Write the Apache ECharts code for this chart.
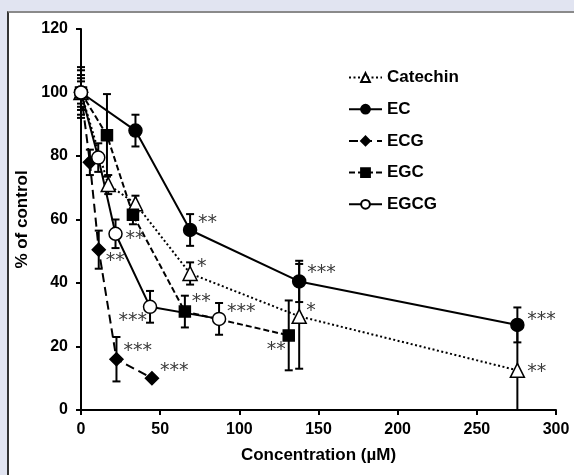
<!DOCTYPE html>
<html>
<head>
<meta charset="utf-8">
<script src="https://cdn.jsdelivr.net/npm/echarts@6/dist/echarts.min.js"></script>
<style>
  html, body { margin: 0; padding: 0; background: #e1e4f1; }
  .panel { position: absolute; left: 7px; top: 11px; width: 567px; height: 464px; background: #fff;
    border-left: 2px solid #333; border-top: 2px solid #8a8a8a; box-sizing: border-box; }
  #chart { position: absolute; left: 0; top: 0; width: 574px; height: 475px; }
</style>
</head>
<body>
<div class="panel"></div>
<div id="chart"></div>
<script>
// concentration (µM), % of control, error (SD), significance marks
const catechinX = [0, 17.2, 34.4, 68.9, 137.8, 275.6];
const catechinY = [100, 71, 65, 43, 29.5, 12.5];
const catechinErr = [8, 3, 2.5, 3.5, 16.5, 13];
const catechinSig = ["", "", "", "*", "*", "**"];

const ecX = [0, 34.4, 68.9, 137.8, 275.6];
const ecY = [100, 88, 56.7, 40.5, 26.8];
const ecErr = [5.5, 5, 5, 6.5, 5.5];
const ecSig = ["", "", "**", "***", "***"];

const ecgX = [0, 5.6, 11.2, 22.4, 44.8];
const ecgY = [100, 78, 50.5, 16, 10];
const ecgErr = [7, 4, 6, 7, 0.5];
const ecgSig = ["", "", "**", "***", "***"];

const egcX = [0, 16.4, 32.8, 65.6, 131.2];
const egcY = [100, 86.5, 61.5, 31, 23.5];
const egcErr = [3.5, 13, 3, 5, 11];
const egcSig = ["", "", "", "**", "**"];

const egcgX = [0, 10.9, 21.8, 43.6, 87.2];
const egcgY = [100, 79.5, 55.5, 32.5, 28.7];
const egcgErr = [4.5, 4.5, 4.5, 5, 5];
const egcgSig = ["", "", "**", "***", "***"];

const xTicks = [0, 50, 100, 150, 200, 250, 300];
const yTicks = [0, 20, 40, 60, 80, 100, 120];

// where each star label sits relative to its point: [dx, dy, align]
const sigPlace = {
  Catechin: { 3: [7, -6, "left"], 4: [7, -5, "left"], 5: [10, 2, "left"] },
  EC: { 2: [8, -7, "left"], 3: [8, -8, "left"], 4: [10, -5, "left"] },
  ECG: { 2: [7, 11, "left"], 3: [7, -8, "left"], 4: [8, -7, "left"] },
  EGC: { 3: [7, -10, "left"], 4: [-3, 15, "right"] },
  EGCG: { 2: [10, 5, "left"], 3: [-3, 14, "right"], 4: [8, -7, "left"] }
};

const FONT = "Liberation Sans, Arial, sans-serif";

const groups = [
  { name: "Catechin", x: catechinX, y: catechinY, err: catechinErr, sig: catechinSig,
    symbol: "triangle", size: 14, fill: "#fff", dash: [2, 2.5] },
  { name: "EC", x: ecX, y: ecY, err: ecErr, sig: ecSig, symbol: "circle", size: 13, fill: "#000", dash: "solid" },
  { name: "ECG", x: ecgX, y: ecgY, err: ecgErr, sig: ecgSig, symbol: "diamond", size: 13, fill: "#000", dash: [9, 5] },
  { name: "EGC", x: egcX, y: egcY, err: egcErr, sig: egcSig, symbol: "rect", size: 11, fill: "#000", dash: [6, 3] },
  { name: "EGCG", x: egcgX, y: egcgY, err: egcgErr, sig: egcgSig, symbol: "circle", size: 13, fill: "#fff", dash: "solid" }
];

const errRender = (params, api) => {
  const x = api.value(0);
  const y = api.value(1);
  const e = api.value(2);
  const top = api.coord([x, y + e]);
  const low = Math.max(0, y - e);
  const bot = api.coord([x, low]);
  const st = { stroke: "#000", lineWidth: 2 };
  const kids = [
    { type: "line", shape: { x1: top[0], y1: top[1], x2: bot[0], y2: bot[1] }, style: st },
    { type: "line", shape: { x1: top[0] - 4, y1: top[1], x2: top[0] + 4, y2: top[1] }, style: st }
  ];
  if (low > 0) kids.push({ type: "line", shape: { x1: bot[0] - 4, y1: bot[1], x2: bot[0] + 4, y2: bot[1] }, style: st });
  return { type: "group", children: kids };
};

const series = [];
groups.forEach((g) => {
  series.push({
    name: g.name + "-err",
    type: "custom",
    renderItem: errRender,
    encode: { x: 0, y: 1 },
    data: g.x.map((v, i) => [v, g.y[i], g.err[i]]),
    z: 1,
    silent: true
  });
});
groups.forEach((g) => {
  const place = sigPlace[g.name] || {};
  series.push({
    name: g.name,
    type: "line",
    symbol: g.symbol,
    symbolSize: g.size,
    showAllSymbol: true,
    lineStyle: { color: "#000", width: 2, type: g.dash },
    itemStyle: { color: g.fill, borderColor: "#000", borderWidth: 1.5 },
    z: 3,
    animation: false,
    data: g.x.map((v, i) => {
      const item = { value: [v, g.y[i]] };
      const p = place[i];
      if (g.sig[i] && p) {
        item.label = {
          show: true,
          formatter: g.sig[i],
          position: "inside",
          offset: [p[0], p[1]],
          align: p[2],
          verticalAlign: "middle",
          color: "#3a3a3a",
          fontFamily: "DejaVu Sans",
          fontSize: 19
        };
      }
      return item;
    })
  });
});

const chart = echarts.init(document.getElementById("chart"));
chart.setOption({
  animation: false,
  backgroundColor: "transparent",
  grid: { left: 81, top: 29, right: 18, bottom: 65 },
  legend: {
    data: groups.map((g) => g.name),
    orient: "vertical",
    left: 348,
    top: 69,
    padding: 0,
    itemWidth: 33,
    itemHeight: 11,
    itemGap: 14.7,
    textStyle: { fontFamily: FONT, fontWeight: "bold", fontSize: 17, color: "#000" }
  },
  xAxis: {
    type: "value",
    min: 0,
    max: 300,
    interval: 50,
    name: "Concentration (µM)",
    nameLocation: "middle",
    nameGap: 37,
    nameTextStyle: { fontFamily: FONT, fontWeight: "bold", fontSize: 17, color: "#000" },
    axisLine: { lineStyle: { color: "#000", width: 2 } },
    axisTick: { length: 5, lineStyle: { color: "#000", width: 2 } },
    axisLabel: { fontFamily: FONT, fontWeight: "bold", fontSize: 16, color: "#000", margin: 12,
      formatter: (v) => (xTicks.includes(v) ? String(v) : "") },
    splitLine: { show: false }
  },
  yAxis: {
    type: "value",
    min: 0,
    max: 120,
    interval: 20,
    name: "% of control",
    nameLocation: "middle",
    nameGap: 46,
    nameTextStyle: { fontFamily: FONT, fontWeight: "bold", fontSize: 17, color: "#000" },
    axisLine: { show: true, lineStyle: { color: "#000", width: 2 } },
    axisTick: { show: true, length: 5, lineStyle: { color: "#000", width: 2 } },
    axisLabel: { fontFamily: FONT, fontWeight: "bold", fontSize: 16, color: "#000", margin: 13,
      formatter: (v) => (yTicks.includes(v) ? String(v) : "") },
    splitLine: { show: false }
  },
  series
});
</script>
</body>
</html>
